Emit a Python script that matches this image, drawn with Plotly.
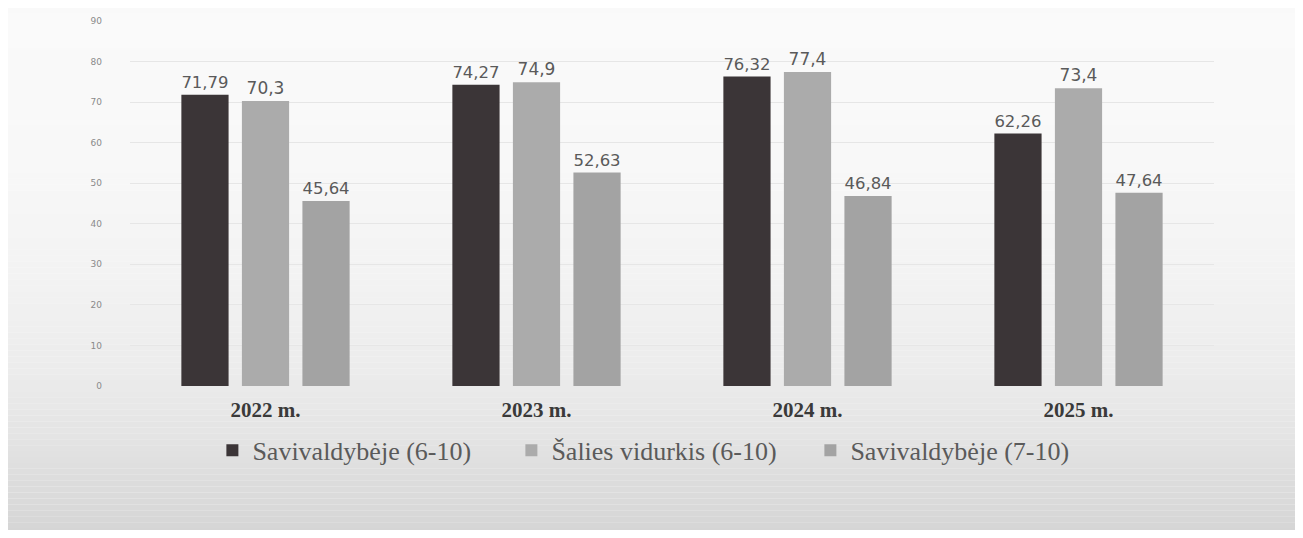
import plotly.graph_objects as go

categories = ["2022 m.", "2023 m.", "2024 m.", "2025 m."]
series_names = ["Savivaldybėje (6-10)", "Šalies vidurkis (6-10)", "Savivaldybėje (7-10)"]
s1 = [71.79, 74.27, 76.32, 62.26]
s2 = [70.3, 74.9, 77.4, 73.4]
s3 = [45.64, 52.63, 46.84, 47.64]
y_ticks = [0, 10, 20, 30, 40, 50, 60, 70, 80, 90]

colors = ["#3b3537", "#ababab", "#a3a3a3"]

def fmt(v):
    return str(v).replace(".", ",")

fig = go.Figure()
for name, vals, col in zip(series_names, [s1, s2, s3], colors):
    fig.add_trace(go.Bar(
        x=categories, y=vals, name=name,
        marker=dict(color=col, line=dict(width=0)),
        text=[fmt(v) for v in vals], textposition="outside",
        textfont=dict(family="DejaVu Sans", size=17, color="#5a5a5a"),
        cliponaxis=False,
    ))

# scanned-paper background shading (lighter at top, greyer at bottom)
FIG_H, M_T, M_B = 522, 8, 144
PLOT_H = FIG_H - M_T - M_B
def py(fy):
    return (FIG_H - M_B - fy) / PLOT_H

stops = [(0, 250), (150, 248), (260, 243), (360, 236), (430, 228), (480, 220), (530, 212)]
def shade(fy):
    for (a, ca), (b, cb) in zip(stops[:-1], stops[1:]):
        if a <= fy <= b:
            return int(round(ca + (cb - ca) * (fy - a) / (b - a)))
    return stops[-1][1]

step = 6
for f0 in range(0, 530, step):
    g = shade(f0 + step / 2)
    fig.add_shape(type="rect", xref="paper", yref="paper", x0=-0.2, x1=1.2,
                  y0=py(f0 + step), y1=py(f0), fillcolor=f"rgb({g},{g},{g})",
                  line=dict(width=0), layer="below")

fig.update_layout(
    width=1287, height=FIG_H,
    paper_bgcolor="#f9f9f9", plot_bgcolor="rgba(0,0,0,0)",
    margin=dict(l=122, r=81, t=M_T, b=M_B),
    barmode="group", bargap=0.33, bargroupgap=0.22,
    showlegend=True,
    legend=dict(orientation="h", x=0.076, xanchor="left", y=-0.176, yanchor="middle",
                entrywidth=254, entrywidthmode="pixels",
                font=dict(family="Liberation Serif", size=26, color="#5a5a5a"),
                bgcolor="rgba(0,0,0,0)"),
    xaxis=dict(tickfont=dict(family="Liberation Serif", size=21, color="#3a3a3a"),
               tickprefix="<b>", ticksuffix="</b>", showline=False, ticks="", showgrid=False,
               ticklabelstandoff=9),
    yaxis=dict(range=[0, 90], tickvals=y_ticks, showgrid=True, gridcolor="#e6e6e6",
               gridwidth=1, zeroline=False,
               tickfont=dict(family="DejaVu Sans", size=9, color="#8a8a8a"),
               ticklabelstandoff=27),
)

fig.write_html("out.html")
